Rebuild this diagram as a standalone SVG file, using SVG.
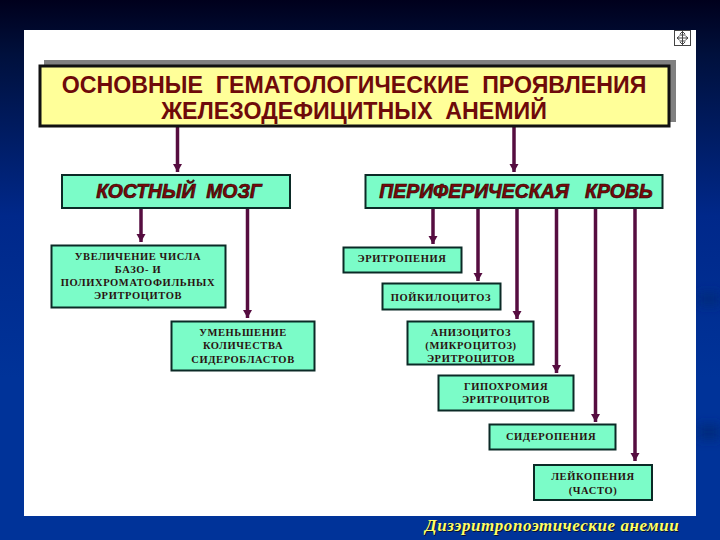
<svg xmlns="http://www.w3.org/2000/svg" width="720" height="540" viewBox="0 0 720 540">
<style>
.box{fill:#7bfcc8;stroke:#0b2a26;stroke-width:2}
.t{font-family:"Liberation Serif",serif;font-weight:bold;font-size:10.5px;fill:#2a1210;text-anchor:middle;letter-spacing:.6px}
.h{font-family:"Liberation Sans",sans-serif;font-weight:bold;font-size:23.2px;fill:#6e0a0a;text-anchor:middle;white-space:pre}
.s{font-family:"Liberation Sans",sans-serif;font-weight:bold;font-style:italic;font-size:19.4px;fill:#7a0a0a;stroke:#2a0606;stroke-width:.7;text-anchor:middle;white-space:pre}
.c{fill:none;stroke:#560d40;stroke-width:3.5;marker-end:url(#a)}
.f{font-family:"Liberation Serif",serif;font-style:italic;font-weight:bold;font-size:17px;letter-spacing:.55px}
</style>
<defs>
<linearGradient id="bg" x1="0" y1="0" x2="0" y2="1">
<stop offset="0" stop-color="#00001c"/><stop offset=".1" stop-color="#00103c"/><stop offset=".4" stop-color="#00288a"/><stop offset=".7" stop-color="#003399"/><stop offset="1" stop-color="#003399"/>
</linearGradient>
<marker id="a" markerUnits="userSpaceOnUse" markerWidth="10" markerHeight="10" refX="8" refY="4.500" orient="auto">
<path d="M0 0L8 4.500L0 9Z" fill="#560d40"/>
</marker>
<filter id="b" x="-50%" y="-100%" width="200%" height="300%"><feGaussianBlur stdDeviation="5"/></filter>
</defs>
<rect width="720" height="540" fill="url(#bg)"/>
<g fill="#002a80" filter="url(#b)"><rect x="698" y="292" width="22" height="14"/><rect x="698" y="424" width="22" height="16"/></g>
<rect x="24" y="30" width="672" height="486" fill="#fff"/>
<g id="icon" fill="none" stroke="#444" stroke-width="1">
<rect x="674.500" y="30.500" width="16" height="15"/>
<path d="M682.500 31V45M677 38H688M680 34L682.500 31.500L685 34M680 42L682.500 44.500L685 42M679.500 36L677 38L679.500 40M685.500 36L688 38L685.500 40M679.500 35H685.500M679.500 41H685.500"/>
</g>
<g id="connectors">
<path class="c" d="M177.500 127V172"/>
<path class="c" d="M514 127V172"/>
<path class="c" d="M141 208V242"/>
<path class="c" d="M247.500 208V318"/>
<path class="c" d="M433 208V244"/>
<path class="c" d="M478 208V281"/>
<path class="c" d="M517 208V319"/>
<path class="c" d="M556.500 208V373"/>
<path class="c" d="M595.500 208V422"/>
<path class="c" d="M635 208V461"/>
</g>
<g id="title">
<rect x="44" y="60" width="632" height="62" fill="#808080"/>
<rect x="40" y="66" width="629" height="60" fill="#ffff99" stroke="#111" stroke-width="3"/>
<text class="h" x="354" y="93" xml:space="preserve">ОСНОВНЫЕ  ГЕМАТОЛОГИЧЕСКИЕ  ПРОЯВЛЕНИЯ</text>
<text class="h" x="354" y="119" xml:space="preserve">ЖЕЛЕЗОДЕФИЦИТНЫХ  АНЕМИЙ</text>
</g>
<g id="bone-marrow">
<rect class="box" x="62" y="175" width="228" height="33"/>
<text class="s" x="179" y="198" xml:space="preserve">КОСТНЫЙ  МОЗГ</text>
</g>
<g id="blood">
<rect class="box" x="365.500" y="175" width="297" height="33"/>
<text class="s" x="516" y="198" xml:space="preserve">ПЕРИФЕРИЧЕСКАЯ   КРОВЬ</text>
</g>
<g id="n1">
<rect class="box" x="51.500" y="245.500" width="174" height="62"/>
<text class="t" x="138" y="260">УВЕЛИЧЕНИЕ  ЧИСЛА</text>
<text class="t" x="138" y="273">БАЗО-  И</text>
<text class="t" x="138" y="286">ПОЛИХРОМАТОФИЛЬНЫХ</text>
<text class="t" x="138" y="299">ЭРИТРОЦИТОВ</text>
</g>
<g id="n2">
<rect class="box" x="171.500" y="321.500" width="143" height="49"/>
<text class="t" x="243" y="336">УМЕНЬШЕНИЕ</text>
<text class="t" x="243" y="349">КОЛИЧЕСТВА</text>
<text class="t" x="243" y="363">СИДЕРОБЛАСТОВ</text>
</g>
<g id="n3">
<rect class="box" x="343.500" y="247.500" width="118" height="25"/>
<text class="t" x="402" y="262">ЭРИТРОПЕНИЯ</text>
</g>
<g id="n4">
<rect class="box" x="382.500" y="283.500" width="118" height="26"/>
<text class="t" x="441" y="301">ПОЙКИЛОЦИТОЗ</text>
</g>
<g id="n5">
<rect class="box" x="407.500" y="321.500" width="126" height="43"/>
<text class="t" x="471" y="336">АНИЗОЦИТОЗ</text>
<text class="t" x="471" y="349">(МИКРОЦИТОЗ)</text>
<text class="t" x="471" y="362">ЭРИТРОЦИТОВ</text>
</g>
<g id="n6">
<rect class="box" x="438.500" y="375.500" width="135" height="35"/>
<text class="t" x="506" y="390">ГИПОХРОМИЯ</text>
<text class="t" x="506" y="403">ЭРИТРОЦИТОВ</text>
</g>
<g id="n7">
<rect class="box" x="489.500" y="424.500" width="126" height="25"/>
<text class="t" x="551" y="440">СИДЕРОПЕНИЯ</text>
</g>
<g id="n8">
<rect class="box" x="534" y="465" width="118" height="35"/>
<text class="t" x="593" y="480">ЛЕЙКОПЕНИЯ</text>
<text class="t" x="593" y="494">(ЧАСТО)</text>
</g>
<text class="f" x="425" y="531" fill="#0a1030" transform="translate(1 1)">Дизэритропоэтические анемии</text>
<text class="f" x="425" y="531" fill="#ffff66">Дизэритропоэтические анемии</text>
</svg>
